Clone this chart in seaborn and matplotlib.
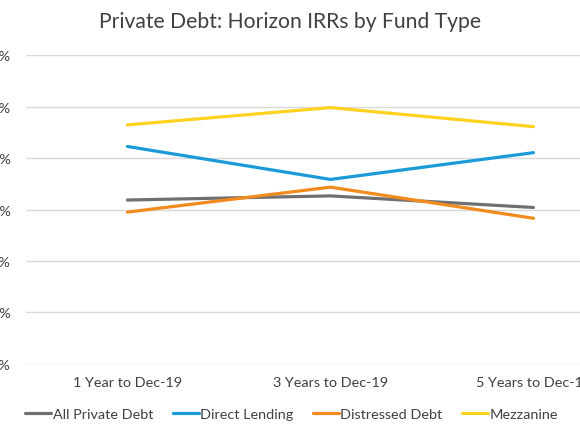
import numpy as np
import pandas as pd
import matplotlib
matplotlib.use("Agg")
import matplotlib.pyplot as plt
import seaborn as sns

# data (IRR, %)
horizons = ["1 Year to Dec-19", "3 Years to Dec-19", "5 Years to Dec-19"]
all_private_debt = [6.37, 6.53, 6.08]
direct_lending = [8.45, 7.17, 8.21]
distressed_debt = [5.90, 6.87, 5.66]
mezzanine = [9.29, 9.96, 9.22]

series_names = ["All Private Debt", "Direct Lending", "Distressed Debt", "Mezzanine"]
colours = ["#6f6f6f", "#1a9ad6", "#f28a1c", "#ffd21f"]

df = pd.DataFrame({
    "horizon": horizons * 4,
    "fund": np.repeat(series_names, 3),
    "irr": all_private_debt + direct_lending + distressed_debt + mezzanine,
})

sns.set_theme(style="white")
plt.rcParams["font.family"] = ["Lato", "DejaVu Sans"]

fig = plt.figure(figsize=(5.8, 4.35), dpi=100)
ax = fig.add_axes([0.0448, 0.161, 1.05, 0.710])

sns.lineplot(data=df, x="horizon", y="irr", hue="fund", palette=colours,
             linewidth=2.3, sort=False, ax=ax, legend=False)

ax.set_xlim(-0.5, 2.5)
ax.set_ylim(0, 12)
ax.set_yticks(range(0, 13, 2))
ax.set_yticklabels([f"{v}%" for v in range(0, 13, 2)])
ax.grid(axis="y", color="#d9d9d9", linewidth=1)
ax.set_axisbelow(True)
for s in ax.spines.values():
    s.set_visible(False)
ax.tick_params(axis="both", length=0, labelsize=10.4, colors="#404040")
ax.tick_params(axis="y", pad=11)
ax.tick_params(axis="x", pad=8.5)
ax.set_xlabel("")
ax.set_ylabel("")

fig.text(0.5, 0.949, "Private Debt: Horizon IRRs by Fund Type", ha="center",
         va="center", fontsize=15.2, color="#404040")

handles = [plt.Line2D([], [], color=c, linewidth=2.3) for c in colours]
fig.legend(handles, series_names, loc="center", bbox_to_anchor=(0.503, 0.047),
           ncol=4, frameon=False, fontsize=10.4, handlelength=1.8,
           handletextpad=0.1, columnspacing=1.35, labelcolor="#404040")

fig.savefig("out.png", dpi=100)
